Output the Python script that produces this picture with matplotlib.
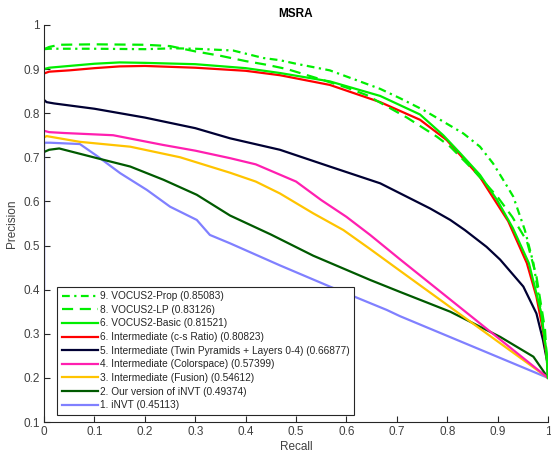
import matplotlib
matplotlib.use("Agg")
import matplotlib.pyplot as plt
from matplotlib.ticker import FuncFormatter

plt.rcParams['font.family'] = ['Liberation Sans', 'DejaVu Sans']

# precision/recall curves (recall, precision)
prop_r = [0, 0.01, 0.1, 0.2, 0.256, 0.3, 0.375, 0.435, 0.468, 0.5, 0.567, 0.667, 0.706,
          0.753, 0.786, 0.832, 0.865, 0.891, 0.911, 0.931, 0.954, 0.971, 0.987, 0.997, 1.0]
prop_p = [0.945, 0.946, 0.946, 0.945, 0.947, 0.946, 0.942, 0.925, 0.92, 0.912, 0.897, 0.855, 0.834,
          0.807, 0.785, 0.754, 0.724, 0.686, 0.649, 0.611, 0.535, 0.46, 0.346, 0.25, 0.2]

lp_r = [0, 0.01, 0.03, 0.1, 0.2, 0.25, 0.3, 0.35, 0.4, 0.44, 0.482, 0.548, 0.6, 0.64, 0.72,
        0.779, 0.806, 0.852, 0.9, 0.929, 0.958, 0.977, 0.994, 1.0]
lp_p = [0.945, 0.95, 0.955, 0.956, 0.955, 0.952, 0.94, 0.93, 0.918, 0.91, 0.9, 0.877, 0.858, 0.841, 0.79,
        0.747, 0.724, 0.671, 0.61, 0.565, 0.51, 0.43, 0.31, 0.2]

basic_r = [0, 0.01, 0.05, 0.1, 0.15, 0.2, 0.3, 0.4, 0.468, 0.567, 0.667, 0.746, 0.792, 0.825,
           0.865, 0.899, 0.93, 0.962, 0.986, 0.998, 1.0]
basic_p = [0.9, 0.903, 0.907, 0.912, 0.915, 0.914, 0.911, 0.902, 0.891, 0.872, 0.839, 0.797, 0.75, 0.71,
           0.66, 0.603, 0.54, 0.46, 0.35, 0.25, 0.2]

cs_r = [0, 0.01, 0.05, 0.1, 0.15, 0.2, 0.3, 0.4, 0.468, 0.567, 0.667, 0.746, 0.799, 0.865,
        0.921, 0.958, 0.977, 0.99, 0.999, 1.0]
cs_p = [0.89, 0.894, 0.897, 0.902, 0.906, 0.907, 0.903, 0.896, 0.886, 0.864, 0.825, 0.785, 0.739, 0.655,
        0.555, 0.46, 0.384, 0.308, 0.233, 0.2]

twin_r = [0, 0.005, 0.02, 0.1, 0.2, 0.3, 0.369, 0.468, 0.567, 0.667, 0.766, 0.806, 0.835, 0.878,
          0.905, 0.951, 0.977, 0.99, 0.999, 1.0]
twin_p = [0.83, 0.825, 0.822, 0.81, 0.79, 0.766, 0.743, 0.717, 0.679, 0.641, 0.584, 0.558, 0.535, 0.497,
          0.468, 0.407, 0.346, 0.286, 0.233, 0.2]

color_r = [0, 0.01, 0.04, 0.137, 0.236, 0.3, 0.369, 0.42, 0.5, 0.55, 0.6, 0.647, 0.706, 1.0]
color_p = [0.76, 0.757, 0.755, 0.75, 0.728, 0.715, 0.698, 0.684, 0.645, 0.603, 0.565, 0.524, 0.469, 0.2]

fusion_r = [0, 0.005, 0.071, 0.171, 0.27, 0.369, 0.42, 0.468, 0.534, 0.594, 0.647, 0.706, 1.0]
fusion_p = [0.745, 0.748, 0.735, 0.724, 0.70, 0.665, 0.645, 0.618, 0.573, 0.535, 0.492, 0.443, 0.2]

ours_r = [0, 0.01, 0.03, 0.105, 0.171, 0.237, 0.303, 0.369, 0.45, 0.534, 0.647, 0.706, 0.806,
          0.905, 0.971, 1.0]
ours_p = [0.712, 0.717, 0.72, 0.698, 0.679, 0.649, 0.615, 0.568, 0.525, 0.477, 0.422, 0.395, 0.35,
          0.293, 0.248, 0.2]

invt_r = [0, 0, 0.012, 0.071, 0.105, 0.151, 0.204, 0.25, 0.303, 0.329, 0.369, 0.468, 0.567, 0.68,
          0.706, 1.0]
invt_p = [0.4, 0.733, 0.733, 0.73, 0.703, 0.664, 0.626, 0.588, 0.558, 0.524, 0.505, 0.455, 0.407, 0.354,
          0.34, 0.2]

labels = [
    "1. iNVT (0.45113)",
    "2. Our version of iNVT (0.49374)",
    "3. Intermediate (Fusion) (0.54612)",
    "4. Intermediate (Colorspace) (0.57399)",
    "5. Intermediate (Twin Pyramids + Layers 0-4) (0.66877)",
    "6. Intermediate (c-s Ratio) (0.80823)",
    "6. VOCUS2-Basic (0.81521)",
    "8. VOCUS2-LP (0.83126)",
    "9. VOCUS2-Prop (0.85083)",
]

fig = plt.figure(figsize=(5.51, 4.53), dpi=100)
ax = fig.add_axes([0.080, 0.0684, 0.9146, 0.8766])

lw = 1.6
green = '#00ee00'
ax.plot(invt_r, invt_p, color='#8080ff', lw=lw, label=labels[0])
ax.plot(ours_r, ours_p, color='#005a00', lw=lw, label=labels[1])
ax.plot(fusion_r, fusion_p, color='#ffc400', lw=lw, label=labels[2])
ax.plot(color_r, color_p, color='#ff1fb0', lw=lw, label=labels[3])
ax.plot(twin_r, twin_p, color='#000033', lw=lw, label=labels[4])
ax.plot(cs_r, cs_p, color='#ff0000', lw=lw, label=labels[5])
ax.plot(basic_r, basic_p, color=green, lw=lw, label=labels[6])
ax.plot(lp_r, lp_p, color=green, lw=lw, ls=(0, (5, 3)), label=labels[7])
ax.plot(prop_r, prop_p, color=green, lw=lw, ls=(0, (3.5, 2, 1, 2)), label=labels[8])

ax.set_xlim(0, 1)
ax.set_ylim(0.1, 1)
ax.set_xticks([i / 10 for i in range(11)])
ax.set_yticks([i / 10 for i in range(1, 11)])
fmt = FuncFormatter(lambda v, p: '%g' % round(v, 1))
ax.xaxis.set_major_formatter(fmt)
ax.yaxis.set_major_formatter(fmt)
ax.tick_params(direction='in', length=4, width=0.8, colors='#262626', labelcolor='#404040',
               labelsize=8.5, pad=3)
for s in ['top', 'right']:
    ax.spines[s].set_visible(False)
for s in ['left', 'bottom']:
    ax.spines[s].set_color('#262626')
    ax.spines[s].set_linewidth(0.8)

ax.set_title('MSRA', fontsize=8.5, fontweight='bold', pad=6)
ax.set_xlabel('Recall', fontsize=8.5, color='#404040', labelpad=2)
ax.set_ylabel('Precision', fontsize=8.5, color='#404040', labelpad=4)

h, l = ax.get_legend_handles_labels()
leg = ax.legend(h[::-1], l[::-1], loc='lower left', bbox_to_anchor=(0.026, 0.018),
                borderaxespad=0, fontsize=7.3, handlelength=3.6, handletextpad=0.2,
                labelspacing=0.36, borderpad=0.45, fancybox=False, framealpha=1)
leg.get_frame().set_edgecolor('#262626')
leg.get_frame().set_linewidth(0.8)
for t in leg.get_texts():
    t.set_color('#262626')

fig.savefig('out.png', dpi=100)
